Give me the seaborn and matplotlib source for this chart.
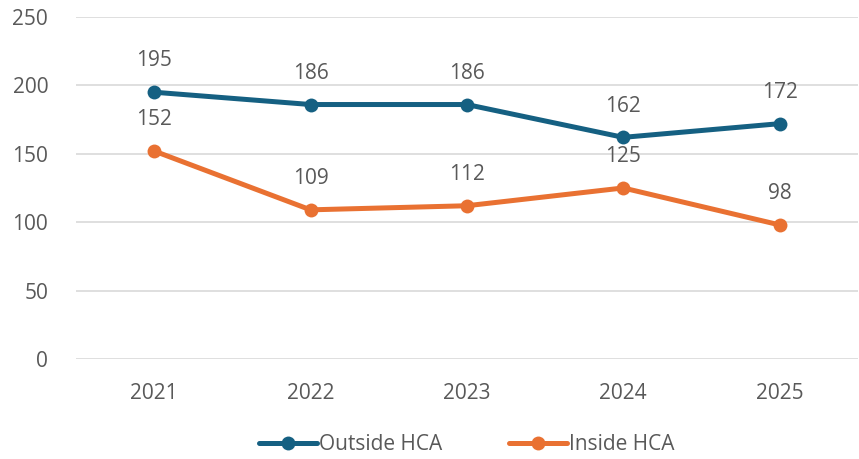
import pandas as pd
import matplotlib.pyplot as plt
import seaborn as sns

sns.set_style('white')
plt.rcParams['font.family'] = ['Open Sans', 'DejaVu Sans']

years = ['2021', '2022', '2023', '2024', '2025']
outside_hca = [195, 186, 186, 162, 172]
inside_hca = [152, 109, 112, 125, 98]
series_names = ['Outside HCA', 'Inside HCA']
colors = ['#156082', '#E97132']

df = pd.DataFrame({
    'Year': years * 2,
    'Count': outside_hca + inside_hca,
    'Group': [series_names[0]] * len(years) + [series_names[1]] * len(years),
})
df['x'] = df.groupby('Group').cumcount()

fig = plt.figure(figsize=(8.59, 4.59), dpi=100)
ax = fig.add_axes([0.0885, 0.218, 0.91, 0.745])

sns.lineplot(data=df, x='x', y='Count', hue='Group', palette=colors,
             marker='o', markersize=10, markeredgewidth=0, linewidth=3.6,
             ax=ax, legend=True)

# data labels above points
for _, row in df.iterrows():
    ax.annotate(str(row['Count']), (row['x'], row['Count']),
                xytext=(0, 15), textcoords='offset points',
                ha='center', va='bottom', fontsize=15, color='#595959')

ax.set_xlim(-0.5, 4.5)
ax.set_ylim(0, 250)
ax.set_yticks(range(0, 251, 50))
ax.set_xticks(range(len(years)))
ax.set_xticklabels(years)
ax.grid(axis='y', color='#D9D9D9', linewidth=1.2)
ax.set_axisbelow(True)
for s in ax.spines.values():
    s.set_visible(False)
ax.tick_params(axis='both', length=0, labelsize=15, labelcolor='#595959')
ax.tick_params(axis='y', pad=20)
ax.tick_params(axis='x', pad=17)
ax.set_xlabel('')
ax.set_ylabel('')

leg = ax.legend(loc='upper center', bbox_to_anchor=(0.5, -0.165), ncol=2,
                frameon=False, fontsize=15, handlelength=2.8,
                handletextpad=0.1, columnspacing=3.2)
for t in leg.get_texts():
    t.set_color('#595959')

fig.savefig('out.png', dpi=100)
